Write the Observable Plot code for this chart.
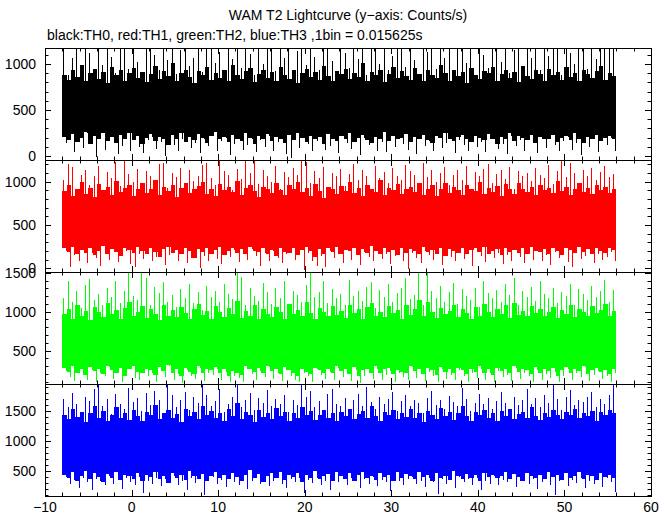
<!DOCTYPE html>
<html><head><meta charset="utf-8">
<script src="https://cdn.jsdelivr.net/npm/d3@7"></script>
<script src="https://cdn.jsdelivr.net/npm/@observablehq/plot@0.6"></script>
<style>
body{margin:0;background:#fff;}
#chart{position:relative;width:672px;height:515px;font-family:"Liberation Sans",Arial,Helvetica,sans-serif;overflow:hidden;background:#fff;}
#chart svg{position:absolute;left:0;top:0;}
.t{position:absolute;font-size:14px;line-height:16px;white-space:nowrap;color:#000;}
</style></head><body><div id="chart">
<div class="t" id="title" style="left:0;width:696px;text-align:center;top:7px;">WAM T2 Lightcurve (y−axis: Counts/s)</div>
<div class="t" id="sub" style="left:47px;top:27px;">black:TH0, red:TH1, green:TH2, blue:TH3 ,1bin = 0.015625s</div>
</div>
<script>
// time grid of the summarised light curve (s)
const tStart = -8, tEnd = 56, step = 0.5;
const xTickLabels = [-10, 0, 10, 20, 30, 40, 50, 60];

// ---- TH0 (black) : spike tops, dip bottoms, solid-band top, solid-band bottom (counts/s per 0.5 s)
const hi0 = [1230,880,1060,1230,940,1230,1120,860,1230,990,1230,1080,900,1230,1160,950,
 1230,1020,870,1230,1230,1100,930,1230,1040,1230,890,1150,1230,980,1070,1230,
 910,1230,1230,1010,1130,860,1230,1050,1230,960,1230,1110,880,1230,1000,1230,
 1180,920,1230,1060,1230,870,1140,1230,990,1230,1080,940,1230,1230,1030,900,
 1230,1120,960,1230,1050,1230,880,1230,1160,1000,1230,930,1090,1230,1230,970,
 1230,1040,890,1230,1130,1230,950,1230,1070,1230,910,1180,1230,1010,1230,870,
 1230,1100,960,1230,1230,1020,1230,900,1150,1230,980,1230,1060,1230,940,1230,
 1090,1230,1230,880,1230,1120,1000,1230,1230,950,1230,1050,1230,1170,1230,1230];
const lo0 = [140,220,40,180,90,250,130,-10,200,70,160,230,20,110,190,60,
 240,100,30,170,210,80,150,0,220,120,60,190,240,90,140,30,
 180,110,230,50,160,200,10,130,250,70,120,190,40,170,100,220,
 60,150,200,20,-20,180,90,240,130,50,160,210,70,110,190,30,
 230,140,80,170,10,200,120,250,60,150,40,190,100,220,130,70,
 180,20,240,110,160,50,200,90,140,230,30,170,120,60,210,100,
 150,40,190,240,80,130,20,220,110,170,60,200,140,30,180,90,
 250,120,50,160,210,70,140,10,190,100,230,40,160,120,200,60];
const bandTop0 = [880,830,930,860,990,810,900,950,840,910,790,970,880,930,820,900,
 960,850,910,800,890,980,840,920,870,1010,810,900,940,860,790,920,
 880,970,830,900,850,930,810,990,880,840,920,960,800,890,930,850,
 910,820,970,880,840,930,790,900,950,860,910,830,980,870,810,920,
 890,950,840,900,860,1010,820,910,880,940,800,890,970,850,920,870,
 830,960,890,810,930,880,850,990,900,820,940,870,910,790,960,880,
 840,920,900,970,820,890,930,850,910,800,980,870,840,930,890,820,
 950,880,910,830,970,860,900,810,940,890,850,920,980,830,900,870];
const bandBot0 = [210,170,240,150,200,260,130,220,180,250,160,210,140,230,190,250,
 170,220,130,200,240,160,210,180,120,230,190,250,150,210,170,240,
 200,140,220,260,180,210,150,230,190,160,250,200,130,220,180,240,
 160,210,190,140,230,170,250,200,150,220,180,210,130,240,190,160,
 220,180,250,150,200,230,170,140,210,190,260,160,220,180,200,240,
 150,210,190,230,170,140,220,200,250,180,160,210,230,190,150,220,
 200,170,240,180,130,210,190,250,160,220,200,170,230,140,210,190,
 180,230,150,200,220,170,250,190,140,210,180,230,160,200,220,190];

// ---- TH1 (red)
const hi1 = [1020,1200,1170,900,1080,1140,960,1060,1180,880,1110,1040,1230,950,1300,1090,
 1000,1150,870,1120,1060,980,1200,1210,930,1100,1050,1160,890,1130,1010,1070,
 1190,1220,1040,960,1300,1120,1080,900,1150,1030,1240,1100,1300,970,1140,1060,
 1000,1180,920,1110,1050,1160,1080,1300,1230,990,1120,1040,1170,880,1100,1060,
 1150,950,1090,1200,1020,1130,1070,910,1180,1040,1110,980,1160,1060,1020,1190,
 1120,1080,940,1210,1050,1140,1000,1100,1170,960,1080,1130,1020,1180,900,1110,
 1060,1150,1200,990,1090,1140,1030,1170,920,1120,1060,1100,1010,1160,1080,1040,
 1190,970,1120,1300,1050,1210,1100,980,1140,1070,1160,1020,1110,1180,1050,1090];
const lo1 = [200,20,150,90,230,60,180,120,30,170,100,240,70,140,200,50,
 10,160,110,220,80,130,190,40,150,210,90,170,60,120,230,0,
 140,80,190,110,50,170,130,210,70,160,100,220,140,30,180,90,
 200,120,60,160,210,100,150,-20,180,80,30,140,10,200,120,170,
 60,230,100,150,40,190,130,80,210,110,170,50,140,220,90,-10,
 180,120,60,200,150,100,230,40,170,130,80,210,110,160,30,190,
 140,70,200,120,180,50,150,90,220,130,60,170,100,200,80,150,
 40,190,120,160,70,10,180,110,140,220,60,170,100,130,190,80];
const bandTop1 = [890,960,840,920,1000,860,930,820,970,900,940,850,1010,880,930,960,
 840,920,980,870,910,1020,850,940,890,960,820,930,980,870,910,950,
 1000,860,920,840,970,900,940,880,1010,850,930,960,890,820,940,910,
 870,980,900,850,960,920,1000,880,930,840,970,890,810,940,910,860,
 950,890,1000,870,930,840,960,910,880,1020,850,930,900,970,860,920,
 940,880,990,850,920,960,830,910,980,870,940,900,850,960,920,890,
 1000,860,930,880,950,840,970,910,860,990,920,880,940,850,960,900,
 930,870,1010,890,940,850,920,980,880,930,860,960,900,940,870,920];
const bandBot1 = [230,190,250,160,210,180,240,150,200,260,170,220,190,140,230,210,
 180,250,200,160,230,190,130,220,250,180,210,160,240,200,120,220,
 190,240,170,210,250,150,200,230,180,220,160,250,200,190,230,170,
 210,140,240,190,180,230,150,210,250,200,130,220,160,230,190,250,
 170,210,200,240,150,220,180,260,200,170,230,190,210,150,240,180,
 220,200,160,250,190,210,170,230,140,220,200,180,240,160,210,230,
 190,250,170,200,220,150,240,190,210,180,230,160,250,200,190,220,
 170,240,200,150,230,210,180,250,190,220,160,230,200,180,240,210];

// ---- TH2 (green)
const hi2 = [1180,1400,1120,1260,1050,1340,1420,1150,1230,1080,1300,1190,1390,1110,1270,1560,
 1200,1150,1560,1430,1090,1320,1240,1380,1130,1210,1060,1290,1170,1350,1110,1250,
 1020,1330,1190,1270,1120,1360,1230,1160,1560,1440,1080,1300,1200,1140,1370,1250,
 1100,1310,1180,1400,1060,1270,1220,1130,1340,1560,1190,1250,1400,1110,1290,1170,
 1230,1080,1410,1200,1260,1140,1320,1380,1050,1280,1190,1350,1120,1240,1300,1430,
 1160,1210,1560,1090,1560,1270,1180,1330,1130,1250,1370,1100,1290,1200,1150,1310,
 1060,1400,1240,1180,1280,1120,1350,1220,1430,1090,1260,1190,1320,1140,1390,1230,
 1170,1300,1110,1250,1200,1360,1080,1290,1230,1150,1330,1190,1260,1410,1120,1280];
const lo2 = [240,160,110,280,190,130,250,100,210,170,290,140,230,95,200,260,
 150,120,270,180,220,105,240,160,300,130,200,90,250,170,140,280,
 110,210,190,260,130,230,100,180,150,95,270,200,120,240,160,290,
 140,210,110,250,180,130,95,220,170,100,260,190,140,230,120,280,
 160,200,110,250,90,180,220,140,270,130,190,240,100,210,160,120,
 290,150,200,110,230,170,95,260,140,190,120,250,180,100,220,150,
 270,130,210,95,240,160,190,110,280,140,220,170,100,250,130,200,
 150,230,95,180,260,120,210,160,290,110,190,240,140,170,100,220];
const bandTop2 = [970,1030,910,1080,950,1010,890,1060,990,930,1110,970,1020,900,1050,1130,
 940,1000,1070,920,1030,970,890,1090,950,1020,930,1060,980,910,1040,1100,
 960,1010,900,1070,990,930,1050,970,1140,920,1010,950,1080,900,1030,970,
 930,1060,990,910,1100,970,1020,940,1130,980,910,1050,1000,940,1070,960,
 1010,920,1090,980,1030,900,1060,1110,950,1000,930,1070,980,1020,910,1090,
 960,1030,1150,940,1120,990,920,1050,970,1010,1080,930,1030,980,910,1060,
 950,1100,990,930,1040,970,1080,920,1110,960,1010,940,1070,980,1030,950,
 990,1060,920,1020,970,1090,930,1040,1000,950,1070,980,1020,1100,940,1010];
const bandBot2 = [280,230,300,210,260,190,290,240,270,200,310,250,220,280,180,260,
 300,230,210,270,250,190,290,240,320,210,260,180,280,230,200,300,
 220,270,250,290,210,260,180,240,220,190,300,260,230,280,210,310,
 240,270,200,290,250,220,180,260,230,200,280,250,220,270,210,300,
 240,260,200,290,170,250,270,220,300,210,260,280,200,250,230,210,
 310,240,260,200,280,250,190,290,230,260,210,280,250,200,270,230,
 300,220,260,190,280,240,260,210,310,230,270,250,200,290,220,260,
 240,280,180,250,290,210,270,240,310,200,250,280,230,250,200,270];

// ---- TH3 (blue)
const hi3 = [1700,1560,1800,1620,1480,1740,1660,1860,2000,1580,1700,1450,1780,1620,1540,1880,
 1650,1720,1500,1800,1600,1840,1680,1420,2000,1760,1560,1690,1820,1520,1730,1640,
 2000,1770,1580,1660,1870,1490,1620,1740,2000,1560,1680,1800,1510,1720,1640,1850,
 1580,1700,1620,1760,1480,1690,1600,2000,1740,1830,1560,1660,1520,1780,1860,1610,
 1580,1720,1460,1680,1790,1590,1900,1650,1530,1740,1620,1700,1820,1500,1660,1760,
 1590,1690,1640,1470,1720,1840,1600,1680,1540,1750,1650,1580,1880,1700,1500,1640,
 1780,1610,1720,1540,1660,1820,1630,1480,1740,1600,1680,1860,1620,1710,1560,1760,
 1640,2000,1700,1520,1740,1850,1600,1680,1650,1730,1810,1570,1700,1620,1760,2000];
const lo3 = [400,280,350,220,390,310,180,370,330,260,410,290,350,200,380,320,
 270,400,140,340,290,380,250,360,310,420,270,340,190,390,300,360,
 100,330,400,280,350,240,390,310,270,370,200,340,400,290,360,250,
 330,410,280,220,370,320,390,140,350,300,380,260,340,190,410,310,
 360,270,390,330,210,370,290,400,250,350,310,170,380,330,270,360,
 400,290,340,240,390,310,120,370,280,350,220,400,320,360,270,380,
 180,340,290,410,260,350,310,380,230,330,390,280,360,200,320,370,
 270,100,340,400,250,350,300,380,210,330,280,360,240,390,310,150];
const bandTop3 = [1430,1360,1530,1400,1480,1320,1460,1580,1380,1500,1340,1440,1560,1390,1470,1350,
 1520,1410,1330,1490,1440,1600,1370,1460,1510,1380,1450,1320,1540,1420,1480,1360,
 1580,1430,1500,1380,1460,1340,1530,1410,1630,1370,1480,1440,1320,1510,1400,1470,
 1360,1550,1420,1490,1340,1460,1380,1570,1440,1500,1350,1430,1520,1390,1470,1330,
 1490,1410,1540,1370,1450,1500,1380,1590,1420,1340,1480,1430,1510,1360,1460,1400,
 1530,1380,1470,1320,1500,1440,1370,1550,1410,1480,1350,1460,1580,1420,1340,1490,
 1430,1520,1380,1460,1330,1500,1410,1540,1370,1450,1480,1390,1560,1420,1350,1470,
 1400,1510,1440,1360,1490,1430,1530,1380,1460,1410,1500,1340,1480,1430,1520,1460];
const bandBot3 = [440,380,480,340,420,500,360,460,400,320,450,390,480,350,430,410,
 370,470,330,440,400,480,360,420,300,460,390,440,350,500,410,370,
 450,330,420,480,390,440,360,470,400,340,430,510,380,450,320,420,
 460,390,480,350,430,400,470,320,440,380,500,360,420,450,340,480,
 410,370,460,330,440,490,380,420,350,470,400,430,340,480,390,450,
 420,360,480,400,440,330,460,390,420,350,500,410,370,450,390,430,
 340,470,400,440,380,420,490,360,450,400,330,470,410,380,440,360,
 480,400,430,350,460,390,420,480,370,440,410,350,470,400,430,390];

// y-axis domains and labelled ticks per panel
const dom0 = [-43, 1174], dom1 = [-42, 1250], dom2 = [73, 1509], dom3 = [83, 1950];
const lab0 = [0, 500, 1000], lab1 = [0, 500, 1000], lab2 = [500, 1000, 1500], lab3 = [500, 1000, 1500];

const W = 672, H = 515, ML = 45, MR = 21;
const panels = [
  {color: "#000000", hi: hi0, lo: lo0, bt: bandTop0, bb: bandBot0, domain: dom0, labels: lab0, top: 48, bottom: 160},
  {color: "#ff0000", hi: hi1, lo: lo1, bt: bandTop1, bb: bandBot1, domain: dom1, labels: lab1, top: 160, bottom: 272},
  {color: "#00ff00", hi: hi2, lo: lo2, bt: bandTop2, bb: bandBot2, domain: dom2, labels: lab2, top: 272, bottom: 384},
  {color: "#0000ff", hi: hi3, lo: lo3, bt: bandTop3, bb: bandBot3, domain: dom3, labels: lab3, top: 384, bottom: 496}
];

const chart = document.getElementById("chart");
panels.forEach((p, k) => {
  const bins = p.hi.map((h, i) => ({t: tStart + i * step, hi: h, lo: p.lo[i], bt: p.bt[i], bb: p.bb[i]}));
  const last = bins[bins.length - 1];
  const bandPts = bins.concat([{...last, t: tEnd}]);
  const plot = Plot.plot({
    width: W, height: H,
    marginLeft: ML, marginRight: MR, marginTop: p.top, marginBottom: H - p.bottom,
    x: {domain: [-10, 60], axis: null},
    y: {domain: p.domain, axis: null},
    style: {background: "transparent", overflow: "visible"},
    marks: [
      Plot.areaY(bandPts, {x: "t", y1: "bb", y2: "bt", curve: "step-after", fill: p.color, shapeRendering: "crispEdges"}),
      Plot.ruleX(bins, {x: d => d.t + step / 4, y1: "bb", y2: "hi", stroke: p.color, strokeWidth: 1, clip: true, shapeRendering: "crispEdges"}),
      Plot.ruleX(bins, {x: d => d.t + 3 * step / 4, y1: "bt", y2: "lo", stroke: p.color, strokeWidth: 1, clip: true, shapeRendering: "crispEdges"}),
      Plot.frame({stroke: "#000", strokeWidth: 1})
    ]
  });
  const sx = plot.scale("x"), sy = plot.scale("y");
  const [x0, x1] = sx.range, [yb, yt] = sy.range;
  const svg = d3.select(plot);
  const g = svg.append("g").attr("stroke", "#000").attr("stroke-width", 1);
  for (let v = Math.ceil(p.domain[0] / 100) * 100; v <= p.domain[1]; v += 100) {
    const y = Math.round(sy.apply(v)) + 0.5;
    const L = v % 500 === 0 ? 6 : 3.5;
    g.append("line").attr("x1", x0).attr("x2", x0 + L).attr("y1", y).attr("y2", y);
    g.append("line").attr("x1", x1).attr("x2", x1 - L).attr("y1", y).attr("y2", y);
  }
  for (let v = -10; v <= 60; v += 2) {
    const x = Math.round(sx.apply(v)) + 0.5;
    const L = v % 10 === 0 ? 6 : 3.5;
    g.append("line").attr("x1", x).attr("x2", x).attr("y1", yb).attr("y2", yb - L);
    g.append("line").attr("x1", x).attr("x2", x).attr("y1", yt).attr("y2", yt + L);
  }
  const tg = svg.append("g").attr("font-family", "'Liberation Sans',Arial,Helvetica,sans-serif")
    .attr("font-size", 14).attr("fill", "#000");
  p.labels.forEach(v => {
    tg.append("text").attr("x", x0 - 9).attr("y", sy.apply(v)).attr("dy", "0.36em")
      .attr("text-anchor", "end").text(String(v));
  });
  if (k === panels.length - 1) {
    xTickLabels.forEach(v => {
      tg.append("text").attr("x", sx.apply(v)).attr("y", yb + 11).attr("dy", "0.36em")
        .attr("text-anchor", "middle").text(v < 0 ? "−" + Math.abs(v) : String(v));
    });
  }
  chart.appendChild(plot);
});
</script>
</body></html>
